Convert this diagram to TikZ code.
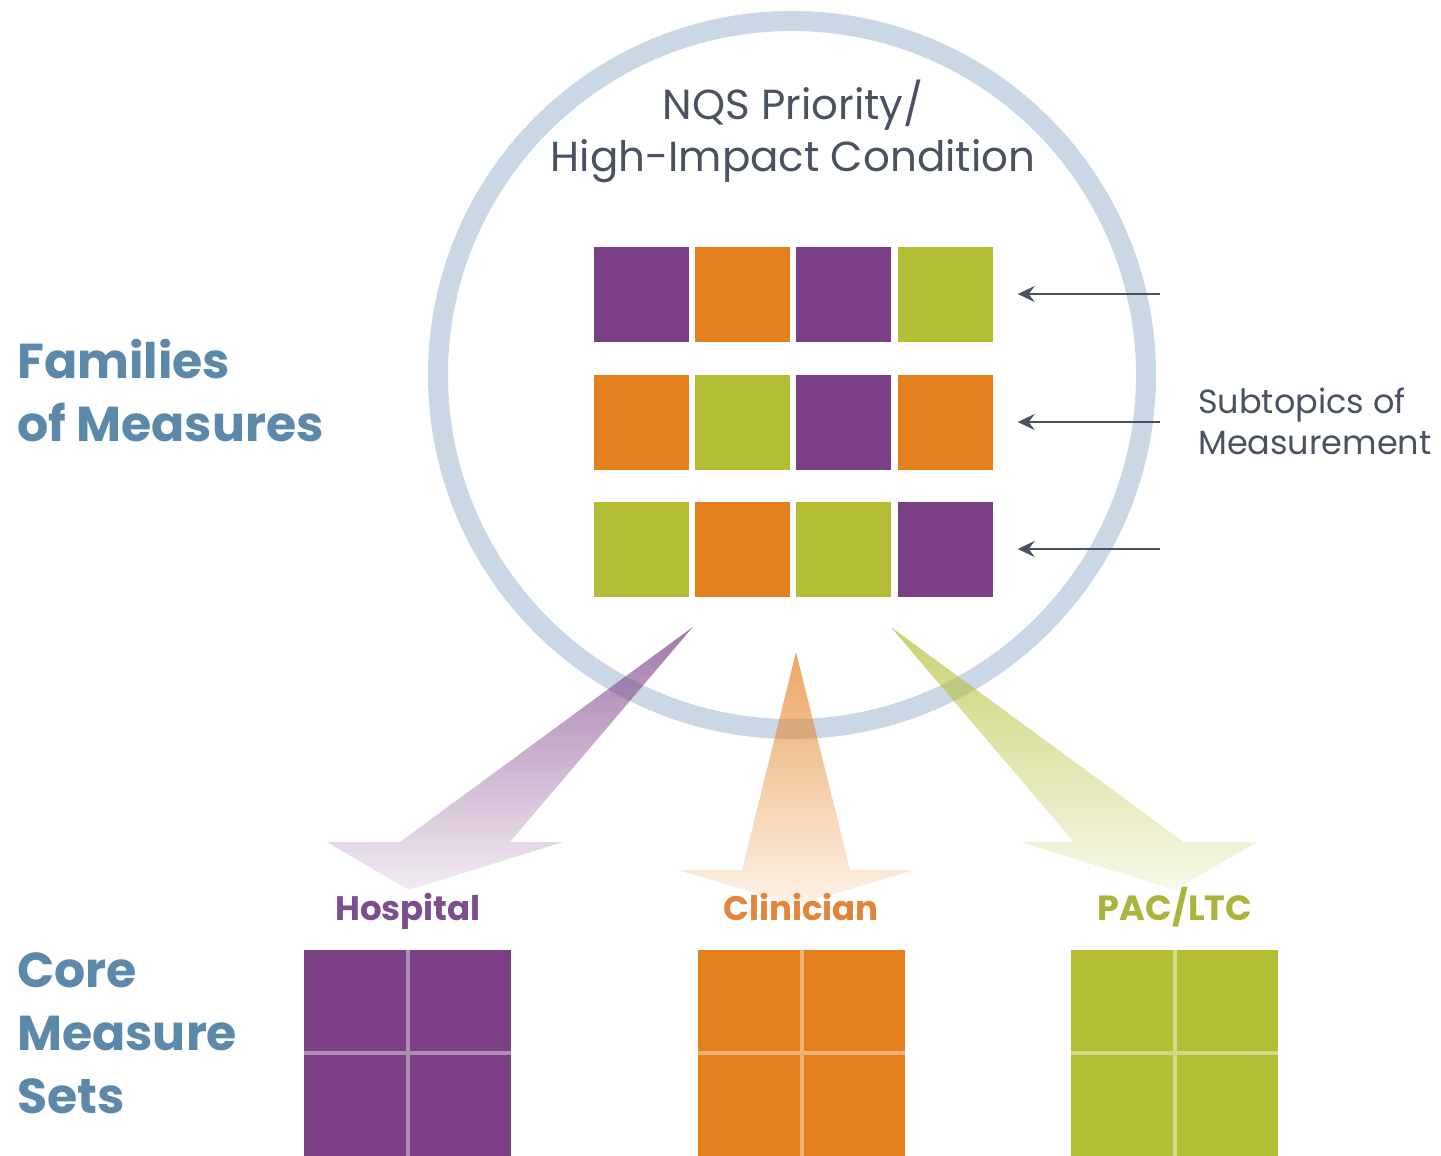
\documentclass[tikz,border=0pt]{standalone}
\usepackage{fontspec}
\setmainfont{Poppins}
\usetikzlibrary{arrows.meta,fadings}
\definecolor{pur}{HTML}{7B3F85}
\definecolor{org}{HTML}{E37F1D}
\definecolor{grn}{HTML}{B4BE35}
\definecolor{ringc}{HTML}{CAD7E4}
\definecolor{bluet}{HTML}{5C89AA}
\definecolor{grayt}{HTML}{4A5262}
\definecolor{purt}{HTML}{7D4E8E}
\definecolor{orgt}{HTML}{E2843A}
\definecolor{grnt}{HTML}{A9B43A}
\tikzfading[name=armfade, top color=transparent!30, bottom color=transparent!90]
\tikzset{
  sq/.style={minimum size=95pt, inner sep=0pt, draw=none},
  bigbox/.style={minimum width=207pt, minimum height=206pt, inner sep=0pt, draw=none},
  gridln/.style={line width=4pt},
  subarrow/.style={draw=grayt, line width=1.8pt, -{Stealth[length=17pt,width=16pt,inset=6pt]}, shorten >=25pt},
  sidelbl/.style={text=bluet, font=\fontsize{49}{63}\selectfont\bfseries, align=left, anchor=north west, inner sep=0pt},
  setlbl/.style={font=\fontsize{34}{40}\selectfont\bfseries, inner sep=0pt, anchor=base}
}
\begin{document}
\begin{tikzpicture}[x=1pt,y=-1pt]
\useasboundingbox (0,0) rectangle (1441,1156);
\begin{scope}
\clip (0,0) rectangle (1441,1156);
% ring
\node[draw=ringc, line width=20pt, circle, minimum size=708pt, inner sep=0pt] (ring) at (792,375) {};
% title
\node[text=grayt, font=\fontsize{42}{52}\selectfont, align=center, anchor=base] (title) at (793,171) {NQS Priority/\\High-Impact Condition};
% squares
\node[sq, fill=pur] (s11) at (641,294) {};
\node[sq, fill=org] (s12) at (742,294) {};
\node[sq, fill=pur] (s13) at (843,294) {};
\node[sq, fill=grn] (s14) at (945,294) {};
\node[sq, fill=org] (s21) at (641,422) {};
\node[sq, fill=grn] (s22) at (742,422) {};
\node[sq, fill=pur] (s23) at (843,422) {};
\node[sq, fill=org] (s24) at (945,422) {};
\node[sq, fill=grn] (s31) at (641,549) {};
\node[sq, fill=org] (s32) at (742,549) {};
\node[sq, fill=grn] (s33) at (843,549) {};
\node[sq, fill=pur] (s34) at (945,549) {};
% subtopic arrows
\coordinate (t1) at (1160,294);
\coordinate (t2) at (1160,422);
\coordinate (t3) at (1160,549);
\draw[subarrow] (t1) -- (s14);
\draw[subarrow] (t2) -- (s24);
\draw[subarrow] (t3) -- (s34);
\node[text=grayt, font=\fontsize{33.5}{41}\selectfont, align=left, anchor=base west, inner sep=0pt] (sub) at (1198,454) {Subtopics of\\Measurement};
% side labels
\node[sidelbl] (fam) at (17,339) {Families\\of Measures};
\node[sidelbl] (core) at (17,952) {Core\\Measure\\Sets};
% gradient arrows
\fill[pur, path fading=armfade] (693,627) -- (510,842) -- (563,842) -- (409,890) -- (327,842) -- (400,842) -- cycle;
\fill[org, path fading=armfade] (796,652) -- (850,870) -- (914,870) -- (796,905) -- (678,870) -- (742,870) -- cycle;
\fill[grn, path fading=armfade] (891,627) -- (1074,842) -- (1021,842) -- (1175,890) -- (1257,842) -- (1184,842) -- cycle;
% set labels
\node[setlbl, text=purt] (lh) at (408,920) {Hospital};
\node[setlbl, text=orgt] (lc) at (801,920) {Clinician};
\node[setlbl, text=grnt, font=\fontsize{35}{40}\selectfont\bfseries] (lp) at (1175,920) {PAC/LTC};
% bottom boxes
\node[bigbox, fill=pur] (bh) at (407.5,1053) {};
\node[bigbox, fill=org] (bc) at (801.5,1053) {};
\node[bigbox, fill=grn] (bp) at (1174.5,1053) {};
\draw[gridln, pur!60!white] (bh.north) -- (bh.south) (bh.west) -- (bh.east);
\draw[gridln, org!60!white] (bc.north) -- (bc.south) (bc.west) -- (bc.east);
\draw[gridln, grn!60!white] (bp.north) -- (bp.south) (bp.west) -- (bp.east);
\end{scope}
\end{tikzpicture}
\end{document}
